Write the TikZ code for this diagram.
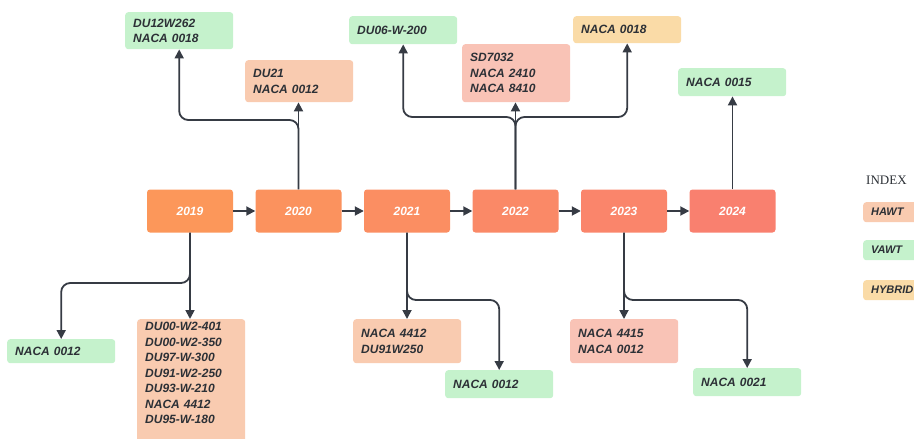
\documentclass[tikz,border=0pt]{standalone}
\usepackage{fontspec}
\setmainfont{Liberation Serif}
\newfontfamily\labelfont{Liberation Sans}
\usetikzlibrary{arrows.meta}

\definecolor{yearA}{HTML}{FC975A}
\definecolor{yearB}{HTML}{F9806F}
\definecolor{hawtcol}{HTML}{F9CBB0}
\definecolor{hawtpink}{HTML}{F9C3B6}
\definecolor{vawtcol}{HTML}{C5F2CC}
\definecolor{hybcol}{HTML}{FADBA7}
\definecolor{ink}{HTML}{2C3036}
\definecolor{wire}{HTML}{363B44}

\tikzset{
  model/.style={rounded corners=3pt, anchor=north west, inner xsep=8pt, inner ysep=3pt,
    text width=92pt, align=left, text=ink,
    font=\labelfont\bfseries\itshape\fontsize{12}{15.5}\selectfont},
  hawt/.style={model, fill=hawtcol},
  hawtp/.style={model, fill=hawtpink},
  vawt/.style={model, fill=vawtcol},
  hybrid/.style={model, fill=hybcol},
  legend/.style={text width=46pt, minimum height=20pt,
    font=\labelfont\bfseries\itshape\fontsize{11}{13}\selectfont},
  year/.style={rounded corners=3pt, minimum width=86pt, minimum height=43pt, text=white,
    font=\labelfont\bfseries\itshape\fontsize{12}{14}\selectfont},
  link/.style={draw=wire, line width=1.8pt, rounded corners=9pt,
    -{Triangle[length=9pt,width=9pt]}},
}

\begin{document}
\begin{tikzpicture}[x=1pt,y=-1pt]
        \clip (0,0) rectangle (914,439);
        % timeline
        \foreach \yr [count=\i] in {2019,2020,2021,2022,2023,2024} {
          \pgfmathsetmacro{\mixval}{(\i-1)*20}
          \node[year, fill=yearB!\mixval!yearA] (y\yr) at ({190+(\i-1)*108.5},211) {\yr};
        }
        \foreach \a/\b in {2019/2020, 2020/2021, 2021/2022, 2022/2023, 2023/2024} {
          \draw[link] (y\a.east) -- (y\b.west);
        }

        % upper boxes
        \node[vawt, minimum height=37pt] (du12) at (125,12) {DU12W262\\NACA 0018};
        \node[hawt, minimum height=42pt] (du21) at (245,60) {DU21\\NACA 0012};
        \node[vawt, minimum height=28pt] (du06) at (349,16) {DU06-W-200};
        \node[hawtp, minimum height=58pt] (sd7032) at (462,44) {SD7032\\NACA 2410\\NACA 8410};
        \node[hybrid, minimum height=27pt] (hyb18) at (573,16) {NACA 0018};
        \node[vawt, minimum height=28pt] (naca15) at (678,68) {NACA 0015};

        % lower boxes
        \node[vawt, minimum height=24pt] (naca12a) at (7,339) {NACA 0012};
        \node[hawt, minimum height=122pt] (du00) at (137,319)
          {DU00-W2-401\\DU00-W2-350\\DU97-W-300\\DU91-W2-250\\DU93-W-210\\NACA 4412\\DU95-W-180\\\mbox{}};
        \node[hawt, minimum height=44pt] (naca4412) at (353,319) {NACA 4412\\DU91W250};
        \node[vawt, minimum height=28pt] (naca12b) at (445,370) {NACA 0012};
        \node[hawtp, minimum height=44pt] (naca4415) at (570,319) {NACA 4415\\NACA 0012};
        \node[vawt, minimum height=28pt] (naca21) at (693,368) {NACA 0021};

        % branch levels
        \coordinate (b20) at (0,120);
        \coordinate (b22) at (0,117);
        \coordinate (b19) at (0,283);
        \coordinate (b21) at (0,300);

        % connectors up
        \draw[link] (y2020.north) -- (y2020.north |- du21.south);
        \draw[link] (y2020.north) |- (du12.south |- b20) -- (du12.south);
        \draw[link] (y2022.north) -- (y2022.north |- sd7032.south);
        \draw[link] (y2022.north) |- (du06.south |- b22) -- (du06.south);
        \draw[link] (y2022.north) |- (hyb18.south |- b22) -- (hyb18.south);
        \draw[link] (y2024.north) -- (y2024.north |- naca15.south);

        % connectors down
        \draw[link] (y2019.south) -- (y2019.south |- du00.north);
        \draw[link] (y2019.south) |- (naca12a.north |- b19) -- (naca12a.north);
        \draw[link] (y2021.south) -- (y2021.south |- naca4412.north);
        \draw[link] (y2021.south) |- (naca12b.north |- b21) -- (naca12b.north);
        \draw[link] (y2023.south) -- (y2023.south |- naca4415.north);
        \draw[link] (y2023.south) |- (naca21.north |- b21) -- (naca21.north);

        % index
        \node[anchor=west, text=ink, font=\fontsize{13}{15}\selectfont, inner sep=0pt] (index) at (866,180) {INDEX};
        \node[hawt, legend] (lhawt) at (863,202) {HAWT};
        \node[vawt, legend] (lvawt) at (863,240) {VAWT};
        \node[hybrid, legend] (lhyb) at (863,280) {HYBRID};
\end{tikzpicture}
\end{document}
